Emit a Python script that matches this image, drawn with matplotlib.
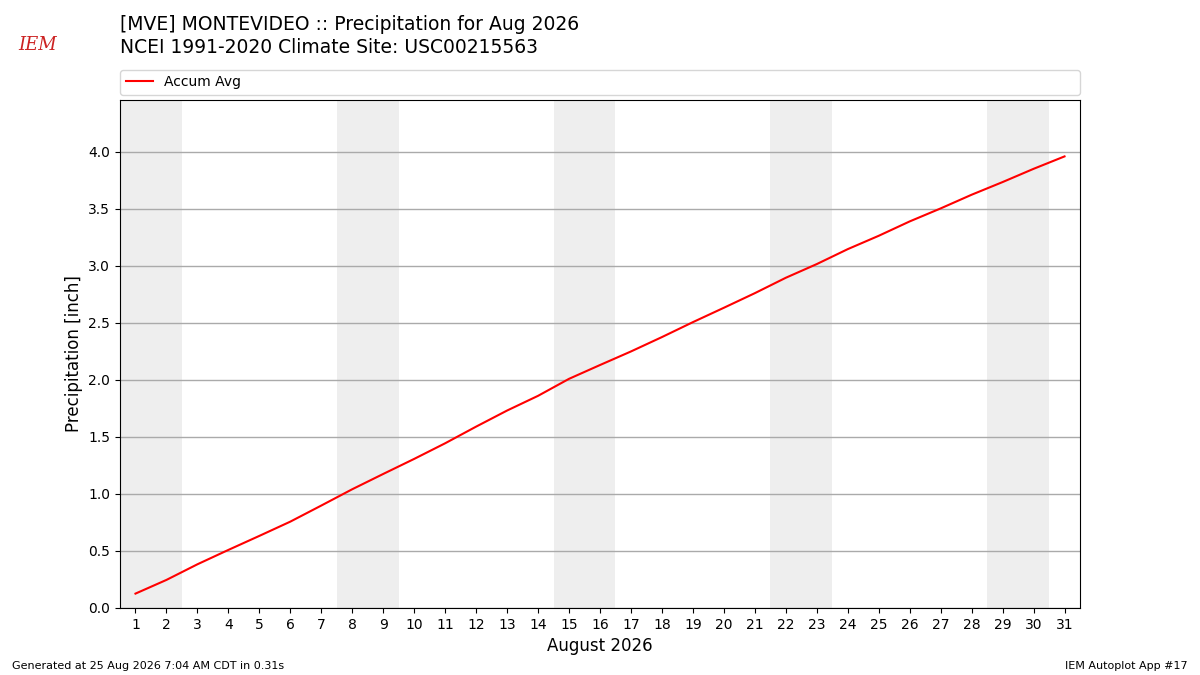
import datetime
import matplotlib
matplotlib.use("Agg")
import matplotlib.pyplot as plt
import numpy as np

# August 2026, accumulated climatological average precipitation (inch)
days = list(range(1, 32))
accum_avg = [0.126, 0.246, 0.383, 0.509, 0.632, 0.757, 0.898, 1.041, 1.175, 1.307,
             1.444, 1.590, 1.731, 1.860, 2.009, 2.130, 2.249, 2.375, 2.506, 2.632,
             2.760, 2.895, 3.015, 3.146, 3.263, 3.389, 3.503, 3.623, 3.734, 3.850,
             3.959]
year, month = 2026, 8

title1 = "[MVE] MONTEVIDEO :: Precipitation for Aug 2026"
title2 = "NCEI 1991-2020 Climate Site: USC00215563"
footer_left = "Generated at 25 Aug 2026 7:04 AM CDT in 0.31s"
footer_right = "IEM Autoplot App #17"

fig = plt.figure(figsize=(12, 6.75), dpi=100)
ax = fig.add_axes([0.1, 0.0993, 0.8, 0.7526])

# weekend shading
for d in days:
    if datetime.date(year, month, d).weekday() == 5:
        ax.axvspan(d - 0.5, d + 1.5, color="#eeeeee", zorder=0, lw=0)

ax.plot(days, accum_avg, color="red", lw=1.5, label="Accum Avg", zorder=3)

ax.set_xlim(0.5, 31.5)
ax.set_ylim(0, max(accum_avg) * 1.125)
ax.set_xticks(days)
ax.set_yticks(np.arange(0, 4.01, 0.5))
ax.grid(axis="y", color="#aaaaaa", lw=1)
ax.set_axisbelow(True)
ax.tick_params(labelsize=10)
ax.set_ylabel("Precipitation [inch]", fontsize=12)
ax.set_xlabel("August 2026", fontsize=12)

ax.legend(loc="lower left", bbox_to_anchor=(0, 1.01, 1, 0.05), mode="expand",
          ncol=1, fontsize=10, borderaxespad=0, frameon=True)

fig.text(0.1, 0.963, title1, fontsize=13.5, va="center")
fig.text(0.1, 0.929, title2, fontsize=13.5, va="center")

# simple stand-in for the IEM logo
fig.text(0.031, 0.933, "IEM", color="#cc2222", fontsize=13, family="serif",
         style="italic", ha="center", va="center")

fig.text(0.01, 0.014, footer_left, fontsize=8, va="center")
fig.text(0.99, 0.014, footer_right, fontsize=8, va="center", ha="right")

fig.savefig("out.png", dpi=100)
